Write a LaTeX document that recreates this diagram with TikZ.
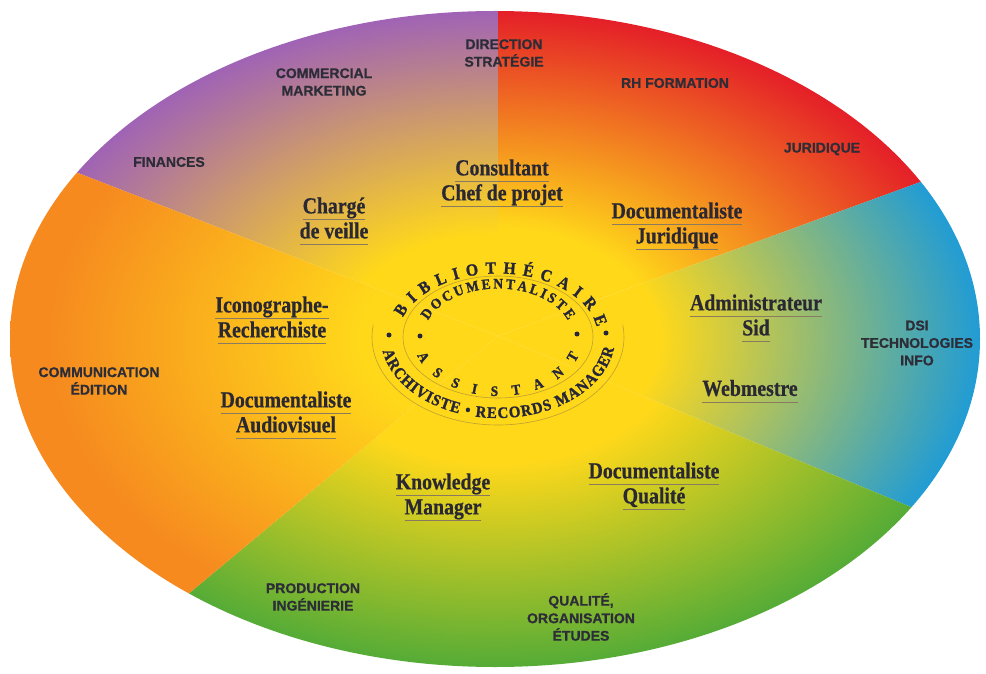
\documentclass[tikz,border=0pt]{standalone}
\usepackage{fontspec}
\setmainfont{Liberation Serif}
\newfontfamily\labfont[BoldFeatures={FakeBold=0.8}]{Liberation Sans}
\newfontfamily\innfont[FakeStretch=0.86,BoldFeatures={FakeBold=0.6}]{Liberation Serif}
\newfontfamily\embfont[FakeStretch=0.92,BoldFeatures={FakeBold=1.4}]{Liberation Serif}
\usetikzlibrary{decorations.text}

\definecolor{cyel}{HTML}{FFD81A}
\definecolor{cpur}{HTML}{A063B5}
\definecolor{cred}{HTML}{E41F28}
\definecolor{cblu}{HTML}{1A9ADA}
\definecolor{cgrn}{HTML}{3FA63A}
\definecolor{cora}{HTML}{F68A1F}
\definecolor{labc}{HTML}{2D2D38}
\definecolor{rolec}{HTML}{2A2833}
\definecolor{embc}{HTML}{262638}
\definecolor{ulc}{HTML}{8A7A60}
\definecolor{embl}{HTML}{C0A030}

\pgfdeclareradialshading{shpur}{\pgfpoint{0bp}{0bp}}{color(0bp)=(cyel); color(8bp)=(cyel); color(25bp)=(cpur); color(50bp)=(cpur)}
\pgfdeclareradialshading{shred}{\pgfpoint{0bp}{0bp}}{color(0bp)=(cyel); color(8.5bp)=(cyel); color(25bp)=(cred); color(50bp)=(cred)}
\pgfdeclareradialshading{shblu}{\pgfpoint{0bp}{0bp}}{color(0bp)=(cyel); color(8.5bp)=(cyel); color(25.5bp)=(cblu); color(50bp)=(cblu)}
\pgfdeclareradialshading{shgrn}{\pgfpoint{0bp}{0bp}}{color(0bp)=(cyel); color(9.5bp)=(cyel); color(27bp)=(cgrn); color(50bp)=(cgrn)}
\pgfdeclareradialshading{shora}{\pgfpoint{0bp}{0bp}}{color(0bp)=(cyel); color(7bp)=(cyel); color(23bp)=(cora); color(50bp)=(cora)}

\newcommand\ulword[1]{\begingroup\setbox0=\hbox{#1}\rlap{\color{ulc}\rule[-0.27em]{\wd0}{0.5pt}}\box0\endgroup}
\newcommand\embBig{\embfont\bfseries\fontsize{17}{18}\selectfont\color{embc}}
\newcommand\embMid{\embfont\bfseries\fontsize{16}{17}\selectfont\color{embc}}
\newcommand\embSmall{\embfont\bfseries\fontsize{14.5}{15}\selectfont\color{embc}}

\tikzset{
  lab/.style={font=\labfont\bfseries\fontsize{14}{17.5}\selectfont, text=labc, align=center, inner sep=0pt},
  role/.style={font=\innfont\bfseries\fontsize{23}{25}\selectfont, text=rolec, align=center, inner sep=0pt},
  embline/.style={draw=embl, line width=0.6pt},
  dotmark/.style={circle, fill=embc, inner sep=0pt, minimum size=5pt},
}

\begin{document}
\begin{tikzpicture}[x=1pt,y=1pt]
\useasboundingbox (0,0) rectangle (986,-674);
\fill[white] (0,0) rectangle (986,-674);

% sector geometry
\coordinate (O) at (498,-336);
\coordinate (Pup) at (500,600);
\coordinate (Ppo) at (-342,-10);
\coordinate (Prb) at (1354,-24);
\coordinate (Pbg) at (1348,-688);
\coordinate (Pog) at (-124,-854);

\begin{scope}
  \clip (O) -- (Ppo) -- (-342,600) -- (Pup) -- cycle;
  \shade[shading=shpur] (495,-339) ellipse [x radius=485, y radius=328];
\end{scope}
\begin{scope}
  \clip (O) -- (Pup) -- (1354,600) -- (Prb) -- cycle;
  \shade[shading=shred] (495,-339) ellipse [x radius=485, y radius=328];
\end{scope}
\begin{scope}
  \clip (O) -- (Prb) -- (Pbg) -- cycle;
  \shade[shading=shblu] (495,-339) ellipse [x radius=485, y radius=328];
\end{scope}
\begin{scope}
  \clip (O) -- (Pbg) -- (1348,-1200) -- (-124,-1200) -- (Pog) -- cycle;
  \shade[shading=shgrn] (495,-339) ellipse [x radius=485, y radius=328];
\end{scope}
\begin{scope}
  \clip (O) -- (Pog) -- (-400,-854) -- (-400,-10) -- (Ppo) -- cycle;
  \shade[shading=shora] (495,-339) ellipse [x radius=485, y radius=328];
\end{scope}

% outer labels
\node[lab] (dir)  at (504,-53)  {DIRECTION\\STRATÉGIE};
\node[lab] (com)  at (324,-82)  {COMMERCIAL\\MARKETING};
\node[lab] (fin)  at (169,-162) {FINANCES};
\node[lab] (rh)   at (675,-83)  {RH FORMATION};
\node[lab] (jur)  at (822,-149) {JURIDIQUE};
\node[lab] (dsi)  at (917,-343) {DSI\\TECHNOLOGIES\\INFO};
\node[lab] (comm) at (99,-381)  {COMMUNICATION\\ÉDITION};
\node[lab] (prod) at (313,-597) {PRODUCTION\\INGÉNIERIE};
\node[lab] (qual) at (581,-617) {QUALITÉ,\\ORGANISATION\\ÉTUDES};

% roles
\node[role] (cons) at (502,-183) {\ulword{Consultant}\\\ulword{Chef de projet}};
\node[role] (veil) at (334,-221) {\ulword{Chargé}\\\ulword{de veille}};
\node[role] (djur) at (677,-226) {\ulword{Documentaliste}\\\ulword{Juridique}};
\node[role] (icon) at (272,-320) {\ulword{Iconographe-}\\\ulword{Recherchiste}};
\node[role] (adm)  at (756,-318) {\ulword{Administrateur}\\\ulword{Sid}};
\node[role] (web)  at (750,-391) {\ulword{Webmestre}};
\node[role] (daud) at (286,-415) {\ulword{Documentaliste}\\\ulword{Audiovisuel}};
\node[role] (km)   at (443,-497) {\ulword{Knowledge}\\\ulword{Manager}};
\node[role] (dqua) at (654,-486) {\ulword{Documentaliste}\\\ulword{Qualité}};

% emblem
\coordinate (E) at (498,-337);
\draw[embline] (E) ellipse [x radius=95, y radius=61];
\draw[embline] ([shift={(E)}]172:126 and 88) arc [start angle=172, end angle=368, x radius=126, y radius=88];

\path[decorate, decoration={text along path, text={|\embBig|BIBLIOTHÉCAIRE}, text align={fit to path}}]
  ([shift={(E)}]162:100 and 63.5) arc [start angle=162, end angle=9, x radius=100, y radius=63.5];
\path[decorate, decoration={text along path, text={|\embMid|ARCHIVISTE • RECORDS MANAGER}, text align={fit to path}}]
  ([shift={(E)}]190:117 and 81) arc [start angle=190, end angle=352, x radius=117, y radius=81];
\path[decorate, decoration={text along path, text={|\embSmall|DOCUMENTALISTE}, text align={fit to path}}]
  ([shift={(E)}]160:74.5 and 48.5) arc [start angle=160, end angle=20, x radius=74.5, y radius=48.5];
\path[decorate, decoration={text along path, text={|\embSmall|ASSISTANT}, text align={fit to path}}]
  ([shift={(E)}]198:85 and 59) arc [start angle=198, end angle=342, x radius=85, y radius=59];

\node[dotmark] (d1) at (389,-335) {};
\node[dotmark] (d2) at (606,-333) {};
\node[dotmark] (d3) at (420,-336) {};
\node[dotmark] (d4) at (577,-334) {};
\end{tikzpicture}
\end{document}
